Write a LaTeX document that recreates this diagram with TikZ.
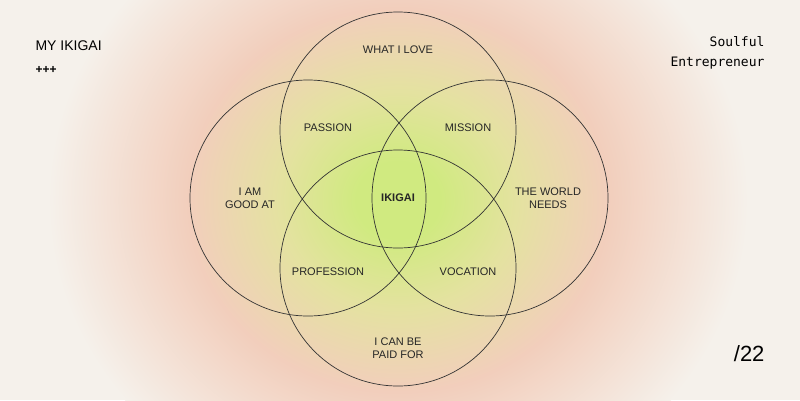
\documentclass[tikz,border=0pt]{standalone}
\usepackage{fontspec}
\setmainfont{Liberation Sans}
\setmonofont{DejaVu Sans Mono}
\definecolor{bgc}{RGB}{245,241,235}
\definecolor{gc}{RGB}{208,234,128}
\definecolor{yc}{RGB}{228,226,160}
\definecolor{pc}{RGB}{242,206,188}
\pgfdeclareradialshading{ikishade}{\pgfpoint{0bp}{0bp}}{color(0bp)=(gc); color(3bp)=(gc); color(8.5bp)=(yc); color(15bp)=(pc); color(25bp)=(bgc); color(50bp)=(bgc)}
\begin{document}
\begin{tikzpicture}[x=1pt,y=-1pt,
  ring/.style={draw=black!80,line width=0.7pt},
  lbl/.style={font=\fontsize{11}{13}\selectfont,text=black!85,align=center}]
\useasboundingbox (0,0) rectangle (800,400);
\fill[bgc] (0,0) rectangle (800,400);
\begin{scope}
\clip (0,0) rectangle (800,400);
\shade[shading=ikishade] (398,200) ellipse (350 and 320);
\end{scope}
\node[ring,circle,minimum size=236pt] (top) at (398,130) {};
\node[ring,circle,minimum size=236pt] (left) at (308,198) {};
\node[ring,circle,minimum size=236pt] (right) at (490,198) {};
\node[ring,circle,minimum size=236pt] (bot) at (398,268) {};
\node[lbl] (love) at (398,50) {WHAT I LOVE};
\node[lbl] (pas) at (328,128) {PASSION};
\node[lbl] (mis) at (468,128) {MISSION};
\node[lbl] (good) at (250,198) {I AM\\GOOD AT};
\node[lbl,font=\fontsize{11}{13}\selectfont\bfseries] (iki) at (398,198) {IKIGAI};
\node[lbl] (world) at (548,198) {THE WORLD\\NEEDS};
\node[lbl] (prof) at (328,272) {PROFESSION};
\node[lbl] (voc) at (468,272) {VOCATION};
\node[lbl] (paid) at (398,348) {I CAN BE\\PAID FOR};
\node[anchor=west,font=\fontsize{14}{16}\selectfont] (title) at (32,46) {MY IKIGAI};
\node[anchor=west,font=\fontsize{12}{14}\selectfont\bfseries] (plus) at (32,70) {+++};
\node[anchor=east,align=right,font=\ttfamily\fontsize{13}{20}\selectfont] (se) at (768,53) {Soulful\\Entrepreneur};
\node[anchor=east,font=\fontsize{22}{24}\selectfont] (num) at (768,354) {/22};
\end{tikzpicture}
\end{document}
